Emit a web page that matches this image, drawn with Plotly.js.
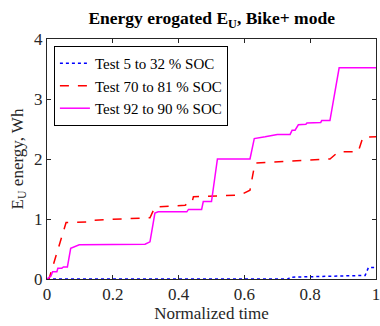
<!DOCTYPE html>
<html>
<head>
<meta charset="utf-8">
<script src="https://cdn.plot.ly/plotly-3.0.1.min.js"></script>
<style>html,body{margin:0;padding:0;background:#fff;}#chart{width:380px;height:326px;}</style>
</head>
<body>
<div id="chart"></div>
<script>
// Test 5 to 32 % SOC
var time_b   = [0, 0.733, 0.739, 0.855, 0.86, 0.967, 0.977, 1.0];
var energy_b = [0, 0, 0.03, 0.04, 0.05, 0.06, 0.19, 0.19];

// Test 70 to 81 % SOC
var time_r   = [0, 0.006, 0.058, 0.131, 0.14, 0.283, 0.313, 0.328, 0.364, 0.42, 0.425, 0.44, 0.445, 0.587, 0.617, 0.632, 0.688, 0.86, 0.886, 0.946, 0.96, 1.0];
var energy_r = [0, 0, 0.94, 0.95, 0.98, 1.01, 1.02, 1.2, 1.21, 1.23, 1.25, 1.26, 1.37, 1.4, 1.48, 1.93, 1.95, 2.0, 2.12, 2.12, 2.36, 2.37];

// Test 92 to 90 % SOC
var time_m   = [0, 0.006, 0.012, 0.017, 0.03, 0.033, 0.045, 0.05, 0.062, 0.072, 0.08, 0.098, 0.298, 0.313, 0.328, 0.338, 0.425, 0.43, 0.47, 0.475, 0.5, 0.518, 0.617, 0.63, 0.663, 0.70, 0.739, 0.745, 0.754, 0.764, 0.787, 0.79, 0.832, 0.835, 0.86, 0.888, 1.0];
var energy_m = [0, 0.02, 0.05, 0.12, 0.12, 0.18, 0.18, 0.2, 0.2, 0.51, 0.53, 0.57, 0.58, 0.62, 1.1, 1.12, 1.12, 1.16, 1.16, 1.29, 1.29, 2.0, 2.0, 2.34, 2.37, 2.41, 2.41, 2.48, 2.48, 2.57, 2.58, 2.6, 2.61, 2.64, 2.64, 3.52, 3.52];

var names = ['Test 5 to 32 % SOC', 'Test 70 to 81 % SOC', 'Test 92 to 90 % SOC'];
var xTicks = [0, 0.2, 0.4, 0.6, 0.8, 1];
var xTickText = ['0', '0.2', '0.4', '0.6', '0.8', '1'];
var yTicks = [0, 1, 2, 3, 4];

var serif = 'Liberation Serif, Times New Roman, serif';
var axisCol = '#262626';

var traces = [
  {x: time_b, y: energy_b, name: names[0], mode: 'lines', line: {color: '#0000ff', width: 1.5, dash: 'dot'}},
  {x: time_r, y: energy_r, name: names[1], mode: 'lines', line: {color: '#ff0000', width: 1.5, dash: 'dash'}},
  {x: time_m, y: energy_m, name: names[2], mode: 'lines', line: {color: '#ff00ff', width: 1.5}}
];

var layout = {
  width: 380, height: 326,
  margin: {l: 47, r: 4, t: 39, b: 47},
  paper_bgcolor: '#fff', plot_bgcolor: '#fff',
  font: {family: serif, color: axisCol, size: 17},
  title: {
    text: '<b>Energy erogated E<sub>U</sub>, Bike+ mode</b>',
    font: {family: serif, size: 17.5, color: '#000'},
    x: 0.557, xanchor: 'center', y: 0.945, yanchor: 'middle', yref: 'container'
  },
  xaxis: {
    range: [0, 1], tickvals: xTicks, ticktext: xTickText,
    ticks: 'inside', ticklen: 4, tickcolor: axisCol,
    showline: true, linecolor: axisCol, linewidth: 1, mirror: 'ticks',
    showgrid: false, zeroline: false, ticklabeloverflow: 'allow',
    tickfont: {family: serif, size: 17, color: axisCol},
    title: {text: 'Normalized time', font: {family: serif, size: 17, color: axisCol}, standoff: 2}
  },
  yaxis: {
    range: [0, 4], tickvals: yTicks,
    ticks: 'inside', ticklen: 4, tickcolor: axisCol,
    showline: true, linecolor: axisCol, linewidth: 1, mirror: 'ticks',
    showgrid: false, zeroline: false, ticklabeloverflow: 'allow',
    tickfont: {family: serif, size: 17, color: axisCol},
    title: {text: 'E<sub>U</sub> energy, Wh', font: {family: serif, size: 17, color: axisCol}, standoff: 6}
  },
  legend: {
    x: 0.021, y: 0.971, xanchor: 'left', yanchor: 'top',
    bgcolor: '#fff', bordercolor: '#000', borderwidth: 1,
    font: {family: serif, size: 15, color: '#000'},
    itemwidth: 30, tracegroupgap: 0
  },
  showlegend: true
};

Plotly.newPlot('chart', traces, layout, {displayModeBar: false, staticPlot: true});
</script>
</body>
</html>
